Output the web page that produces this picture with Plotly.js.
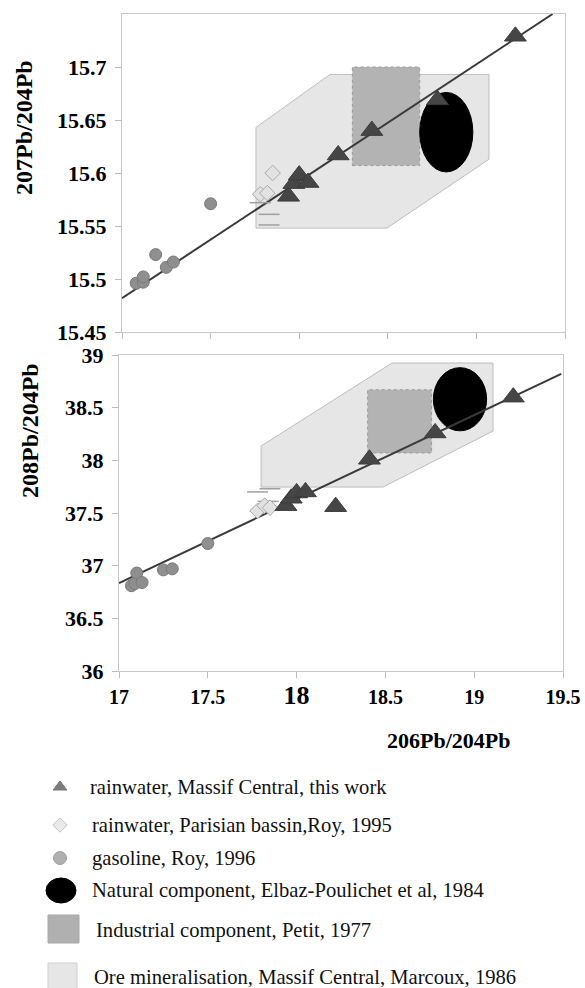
<!DOCTYPE html>
<html><head><meta charset="utf-8">
<script src="https://cdn.plot.ly/plotly-3.0.1.min.js"></script>
<style>html,body{margin:0;padding:0;background:#fff}#chart{width:585px;height:988px}</style>
</head><body><div id="chart"></div>
<script>
// ---------- data ----------
// rainwater, Massif Central, this work
const triX   = [17.94, 17.97, 18.00, 18.05, 18.22, 18.41, 18.78, 19.22];
const tri207 = [15.578, 15.590, 15.598, 15.591, 15.617, 15.640, 15.669, 15.729];
const tri208 = [37.57, 37.64, 37.69, 37.70, 37.56, 38.01, 38.26, 38.60];
// rainwater, Parisian bassin, Roy 1995
const dmdX   = [17.78, 17.82, 17.85];
const dmd207 = [15.580, 15.581, 15.600];
const dmd208 = [37.52, 37.57, 37.55];
// short dashes near Parisian samples
const dashX207 = [17.78, 17.83, 17.83];
const dash207  = [15.572, 15.561, 15.551];
const dashX208 = [17.78, 17.85, 17.84];
const dash208  = [37.70, 37.73, 37.61];
// gasoline, Roy 1996
const gasX207 = [17.08, 17.12, 17.12, 17.19, 17.25, 17.29, 17.50];
const gas207  = [15.496, 15.497, 15.502, 15.523, 15.511, 15.516, 15.571];
const gasX208 = [17.07, 17.09, 17.10, 17.13, 17.25, 17.30, 17.50];
const gas208  = [36.81, 36.83, 36.93, 36.84, 36.96, 36.97, 37.21];
// mixing lines (end points)
const lineX207 = [17.0, 19.43];
const lineY207 = [15.482, 15.75];
const lineX208 = [17.0, 19.49];
const lineY208 = [36.835, 38.82];
// ore mineralisation field (polygon vertices)
const oreX207 = [17.756, 17.756, 18.174, 19.071, 19.071, 18.495];
const oreY207 = [15.548, 15.643, 15.693, 15.693, 15.613, 15.548];
const oreX208 = [17.80, 17.80, 18.537, 19.106, 19.106, 18.486];
const oreY208 = [37.746, 38.136, 38.924, 38.924, 38.278, 37.746];
// industrial component field [x0, x1, y0, y1]
const ind207 = [18.30, 18.68, 15.607, 15.700];
const ind208 = [18.40, 18.76, 38.07, 38.67];
// natural component ellipse [x0, x1, y0, y1]
const nat207 = [18.68, 18.98, 15.601, 15.676];
const nat208 = [18.77, 19.07, 38.28, 38.88];
// ticks
const xTicks = [17, 17.5, 18, 18.5, 19, 19.5];
const xTickText = ['17', '17.5', '<span style="font-size:26px">18</span>', '18.5', '19', '19.5'];
const yTicks207 = [15.45, 15.5, 15.55, 15.6, 15.65, 15.7];
const yTickText207 = ['15.45', '15.5', '15.55', '15.6', '15.65', '15.7'];
const yTicks208 = [36, 36.5, 37, 37.5, 38, 38.5, 39];
const yTickText208 = ['36', '36.5', '37', '37.5', '38', '38.5', '39'];
// legend labels
const legendLabels = [
  'rainwater, Massif Central, this work',
  'rainwater, Parisian bassin,Roy, 1995',
  'gasoline, Roy, 1996',
  'Natural component, Elbaz-Poulichet et al, 1984',
  'Industrial component, Petit, 1977',
  'Ore mineralisation, Massif Central, Marcoux, 1986'
];

// ---------- layout helpers ----------
const W = 585, H = 988;
const SERIF = 'Liberation Serif, Times New Roman, serif';
const fx = p => p / W;
const fy = p => 1 - p / H;

function polyPath(xs, ys) {
  return 'M' + xs.map((x, i) => x + ',' + ys[i]).join('L') + 'Z';
}
function fieldShapes(xr, yr, ore, ind, nat) {
  return [
    {type: 'path', xref: xr, yref: yr, path: polyPath(ore[0], ore[1]), fillcolor: '#e6e6e6',
     line: {color: '#bdbdbd', width: 1}, layer: 'below'},
    {type: 'rect', xref: xr, yref: yr, x0: ind[0], x1: ind[1], y0: ind[2], y1: ind[3],
     fillcolor: '#b3b3b3', line: {color: '#9a9a9a', width: 1, dash: 'dot'}, layer: 'below'},
    {type: 'circle', xref: xr, yref: yr, x0: nat[0], x1: nat[1], y0: nat[2], y1: nat[3],
     fillcolor: '#000', line: {color: '#000', width: 1}, layer: 'below'}
  ];
}

const triStyle = {symbol: 'triangle-up', size: 19, color: '#464646', line: {color: '#3c3c3c', width: 1}};
const dmdStyle = {symbol: 'diamond', size: 12, color: '#e2e2e2', line: {color: '#a8a8a8', width: 1}};
const gasStyle = {symbol: 'circle', size: 12, color: '#8f8f8f', line: {color: '#7a7a7a', width: 1}};
const dashStyle = {symbol: 'line-ew', size: 15, line: {color: '#a0a0a0', width: 1.5}};
const lineStyle = {color: '#3a3a3a', width: 2};

function panel(xa, ya, gX, gY, dY, lX, lY, dashX, dashY, tY) {
  return [
    {x: lX, y: lY, xaxis: xa, yaxis: ya, mode: 'lines', line: lineStyle, showlegend: false, hoverinfo: 'skip'},
    {x: dashX, y: dashY, xaxis: xa, yaxis: ya, mode: 'markers', marker: dashStyle, showlegend: false},
    {x: gX, y: gY, xaxis: xa, yaxis: ya, mode: 'markers', marker: gasStyle, showlegend: false},
    {x: dmdX, y: dY, xaxis: xa, yaxis: ya, mode: 'markers', marker: dmdStyle, showlegend: false},
    {x: triX, y: tY, xaxis: xa, yaxis: ya, mode: 'markers', marker: triStyle, showlegend: false}
  ];
}

const traces = [].concat(
  panel('x', 'y', gasX207, gas207, dmd207, lineX207, lineY207, dashX207, dash207, tri207),
  panel('x2', 'y2', gasX208, gas208, dmd208, lineX208, lineY208, dashX208, dash208, tri208)
);

// legend glyphs (pixel frame axis x3/y3)
traces.push({
  x: [60, 60, 60], y: [787, 825, 858], xaxis: 'x3', yaxis: 'y3', mode: 'markers',
  marker: {symbol: ['triangle-up', 'diamond', 'circle'], size: [12, 11, 13],
           color: ['#464646', '#e2e2e2', '#8f8f8f'],
           line: {color: ['#3c3c3c', '#a8a8a8', '#7a7a7a'], width: 1}},
  showlegend: false, hoverinfo: 'skip', cliponaxis: false
});

const axisCommon = {
  showline: true, linecolor: '#c8c8c8', linewidth: 1, mirror: true,
  showgrid: false, zeroline: false, ticks: 'outside', ticklen: 6, tickcolor: '#bbbbbb', tickwidth: 1,
  tickfont: {family: SERIF, size: 22, color: '#000', weight: 'bold'}, fixedrange: true
};
// overlay axes that add the inner half of the crossing tick marks
const innerTick = {
  showline: false, showgrid: false, zeroline: false, ticks: 'inside', ticklen: 5,
  tickcolor: '#bbbbbb', tickwidth: 1, showticklabels: false, fixedrange: true, tickmode: 'array'
};

const legendY = [787, 825, 858, 890, 930, 977];
const legendXs = [88, 90, 90, 90, 94, 92];
const annotations = legendLabels.map((t, i) => ({
  text: t, xref: 'x3', yref: 'y3', x: legendXs[i], y: legendY[i], xanchor: 'left', yanchor: 'middle',
  showarrow: false, font: {family: SERIF, size: 20.6, color: '#111'}
}));
annotations.push(
  {text: '207Pb/204Pb', xref: 'x3', yref: 'y3', x: 24, y: 128, textangle: -90, showarrow: false,
   xanchor: 'center', yanchor: 'middle', font: {family: SERIF, size: 24, color: '#000', weight: 'bold'}},
  {text: '208Pb/204Pb', xref: 'x3', yref: 'y3', x: 30, y: 431, textangle: -90, showarrow: false,
   xanchor: 'center', yanchor: 'middle', font: {family: SERIF, size: 24, color: '#000', weight: 'bold'}},
  {text: '206Pb/204Pb', xref: 'x3', yref: 'y3', x: 448, y: 740, showarrow: false,
   xanchor: 'center', yanchor: 'middle', font: {family: SERIF, size: 22, color: '#000', weight: 'bold'}}
);

const shapes = [].concat(
  fieldShapes('x', 'y', [oreX207, oreY207], ind207, nat207),
  fieldShapes('x2', 'y2', [oreX208, oreY208], ind208, nat208),
  [
    {type: 'circle', xref: 'x3', yref: 'y3', x0: 46, x1: 76, y0: 878, y1: 903, fillcolor: '#000', line: {color: '#000', width: 1}},
    {type: 'rect', xref: 'x3', yref: 'y3', x0: 48, x1: 79, y0: 915, y1: 943, fillcolor: '#b0b0b0', line: {color: '#a8a8a8', width: 1}},
    {type: 'rect', xref: 'x3', yref: 'y3', x0: 48, x1: 77, y0: 963, y1: 995, fillcolor: '#e6e6e6', line: {color: '#cfcfcf', width: 1}}
  ]
);

const dTop = [fx(122), fx(565)], dBot = [fx(119), fx(563)];
const vTop = [fy(332), fy(14)], vBot = [fy(671), fy(355)];

const layout = {
  width: W, height: H, margin: {l: 0, r: 0, t: 0, b: 0},
  paper_bgcolor: '#fff', plot_bgcolor: 'rgba(0,0,0,0)', showlegend: false,
  xaxis: Object.assign({}, axisCommon, {domain: dTop, range: [17, 19.5], anchor: 'y',
    tickmode: 'array', tickvals: xTicks, showticklabels: false}),
  yaxis: Object.assign({}, axisCommon, {domain: vTop, range: [15.45, 15.75], anchor: 'x',
    tickmode: 'array', tickvals: yTicks207, ticktext: yTickText207, ticklabelstandoff: 4}),
  xaxis2: Object.assign({}, axisCommon, {domain: dBot, range: [17, 19.5], anchor: 'y2',
    tickmode: 'array', tickvals: xTicks, ticktext: xTickText,
    tickfont: {family: SERIF, size: 20, color: '#000', weight: 'bold'}, ticklabelstandoff: 2}),
  yaxis2: Object.assign({}, axisCommon, {domain: vBot, range: [36, 39], anchor: 'x2',
    tickmode: 'array', tickvals: yTicks208, ticktext: yTickText208, ticklabelstandoff: 4}),
  xaxis3: {domain: [0, 1], range: [0, W], anchor: 'y3', visible: false, fixedrange: true},
  yaxis3: {domain: [0, 1], range: [H, 0], anchor: 'x3', visible: false, fixedrange: true},
  xaxis4: Object.assign({}, innerTick, {overlaying: 'x', anchor: 'y', range: [17, 19.5], tickvals: xTicks}),
  yaxis4: Object.assign({}, innerTick, {overlaying: 'y', anchor: 'x', range: [15.45, 15.75], tickvals: yTicks207}),
  xaxis5: Object.assign({}, innerTick, {overlaying: 'x2', anchor: 'y2', range: [17, 19.5], tickvals: xTicks}),
  yaxis5: Object.assign({}, innerTick, {overlaying: 'y2', anchor: 'x2', range: [36, 39], tickvals: yTicks208}),
  shapes: shapes,
  annotations: annotations
};

Plotly.newPlot('chart', traces, layout, {displayModeBar: false, staticPlot: true});
</script>
</body></html>
